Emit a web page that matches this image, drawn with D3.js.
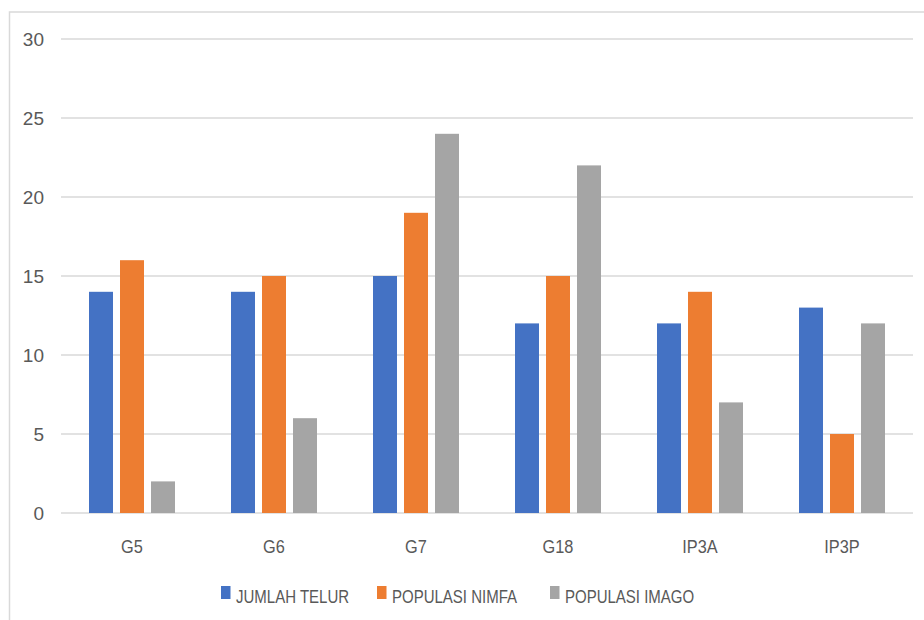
<!DOCTYPE html>
<html>
<head>
<meta charset="utf-8">
<script src="https://cdn.jsdelivr.net/npm/d3@7"></script>
<style>
  html, body { margin: 0; padding: 0; background: #fff; }
  svg { display: block; }
  text { font-family: "Liberation Sans", Arial, sans-serif; fill: #595959; }
</style>
</head>
<body>
<svg id="chart" width="924" height="620"></svg>
<script>
const categories = ["G5", "G6", "G7", "G18", "IP3A", "IP3P"];
const seriesNames = ["JUMLAH TELUR", "POPULASI NIMFA", "POPULASI IMAGO"];
const jumlahTelur = [14, 14, 15, 12, 12, 13];
const populasiNimfa = [16, 15, 19, 15, 14, 5];
const populasiImago = [2, 6, 24, 22, 7, 12];
const yTicks = [0, 5, 10, 15, 20, 25, 30];
const colors = ["#4472C4", "#ED7D31", "#A5A5A5"];

const seriesValues = [jumlahTelur, populasiNimfa, populasiImago];

const svg = d3.select("#chart");

// chart border
svg.append("rect")
  .attr("x", 9.5).attr("y", 12)
  .attr("width", 940).attr("height", 640)
  .attr("fill", "none").attr("stroke", "#d9d9d9").attr("stroke-width", 1.5);

const plotLeft = 61, plotRight = 913, plotTop = 39, plotBottom = 513;

const x0 = d3.scaleBand().domain(categories).range([plotLeft, plotRight]).padding(0);
const x1 = d3.scaleBand().domain(d3.range(3)).range([28, 114]).paddingInner(0.226).paddingOuter(0);
const y = d3.scaleLinear().domain([0, 30]).range([plotBottom, plotTop]);

// gridlines
svg.append("g").selectAll("line").data(yTicks).join("line")
  .attr("x1", plotLeft).attr("x2", plotRight)
  .attr("y1", d => y(d)).attr("y2", d => y(d))
  .attr("stroke", "#d9d9d9").attr("stroke-width", 1.5);

// y tick labels
svg.append("g").selectAll("text").data(yTicks).join("text")
  .attr("x", 44).attr("y", d => y(d))
  .attr("dy", "0.36em")
  .attr("text-anchor", "end")
  .attr("font-size", 19)
  .text(d => d);

// bars
const groups = svg.append("g").selectAll("g").data(categories).join("g")
  .attr("transform", c => `translate(${x0(c)},0)`);

groups.selectAll("rect")
  .data((c, i) => seriesValues.map((vals, s) => ({ s, v: vals[i] })))
  .join("rect")
  .attr("x", d => x1(d.s))
  .attr("width", x1.bandwidth())
  .attr("y", d => y(d.v))
  .attr("height", d => y(0) - y(d.v))
  .attr("fill", d => colors[d.s]);

// category labels
svg.append("g").selectAll("text").data(categories).join("text")
  .attr("transform", c => `translate(${x0(c) + x0.bandwidth() / 2},553) scale(0.86,1)`)
  .attr("text-anchor", "middle")
  .attr("font-size", 19)
  .text(c => c);

// legend
const legendX = [221, 377, 550];
const legend = svg.append("g").selectAll("g").data(seriesNames).join("g")
  .attr("transform", (d, i) => `translate(${legendX[i]},0)`);
legend.append("rect")
  .attr("x", 0).attr("y", 586).attr("width", 9.5).attr("height", 13)
  .attr("fill", (d, i) => colors[i]);
legend.append("text")
  .attr("transform", "translate(15,603) scale(0.79,1)")
  .attr("font-size", 19)
  .text(d => d);
</script>
</body>
</html>
